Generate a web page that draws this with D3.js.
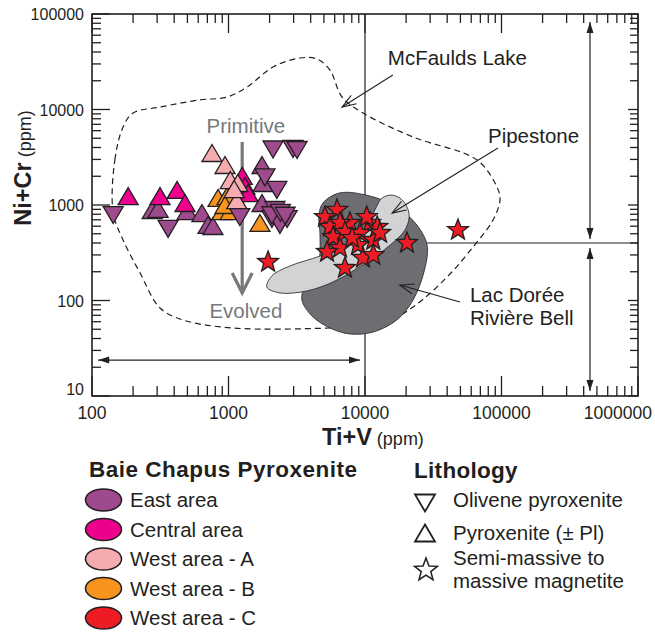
<!DOCTYPE html>
<html>
<head>
<meta charset="utf-8">
<script src="https://cdn.jsdelivr.net/npm/d3@7"></script>
<style>
  body { margin: 0; background: #fff; }
  svg { display: block; font-family: "Liberation Sans", Arial, sans-serif; }
</style>
</head>
<body>
<svg id="chart" width="655" height="633"></svg>
<script>
// Ti+V (ppm) on x, Ni+Cr (ppm) on y, both log scales
var xTickLabels = ["100", "1000", "10000", "100000", "1000000"];
var yTickLabels = ["10", "100", "1000", "10000", "100000"];

// Baie Chapus samples, [Ti+V, Ni+Cr]
var eastOlivine = [[143, 824], [361, 589], [2120, 4000], [2970, 4050], [3180, 3950], [1850, 2040],
  [2260, 1510], [1210, 785], [2190, 930], [2080, 748], [2470, 748], [2690, 748], [2380, 649],
  [2080, 820], [2400, 870], [2600, 810]];
var eastPyroxenite = [[276, 845], [305, 870], [497, 824], [639, 785], [708, 589], [769, 574],
  [1760, 2500], [1790, 1620], [1760, 1000]];
var centralPyroxenite = [[184, 1180], [315, 1180], [420, 1370], [480, 1000], [1260, 1920],
  [1320, 1510], [1390, 1270]];
var westAPyroxenite = [[757, 3340], [943, 2500], [1030, 1740], [1170, 1620], [1150, 1070], [1100, 1400]];
var westBPyroxenite = [[838, 1130], [975, 1180], [896, 824], [1030, 824], [1700, 618], [943, 953]];
var westCMagnetite = [[1950, 253], [6240, 887], [5090, 748], [7760, 649], [10900, 649], [5540, 589],
  [6560, 649], [9190, 509], [5840, 462], [11500, 430], [8880, 381], [6560, 355], [5270, 322],
  [9670, 279], [11500, 299], [7130, 219], [20300, 400], [48000, 547], [12300, 589], [12900, 509],
  [10300, 748], [7130, 521], [8040, 451]];

// outlines of the comparison fields, [Ti+V, Ni+Cr]
var mcfauldsField = [[143, 824], [147, 2960], [169, 6560], [200, 9190], [315, 10600], [618, 12600],
  [975, 13500], [1370, 17200], [2120, 27900], [3340, 34600], [4450, 33800], [5540, 25900],
  [6790, 13500], [9670, 9190], [22500, 5150], [66200, 2960], [92700, 1540], [97500, 1130],
  [86700, 697], [61800, 363], [39900, 176], [22500, 85.5], [12900, 55.3], [5540, 51.5],
  [1080, 51.5], [464, 62.5], [315, 83.4], [225, 194], [169, 430]];
var lacDoreeField = [[4920, 1050], [6560, 1340], [10900, 1240], [17100, 953], [24000, 618],
  [28500, 381], [27500, 219], [22500, 101], [17100, 62.5], [11500, 46.8], [7760, 44.6],
  [5540, 51.5], [4090, 68.8], [3450, 101], [3630, 145], [4530, 236], [4680, 486], [4600, 785]];
var pipestoneField = [[1910, 138], [2380, 120], [3760, 126], [6030, 160], [10300, 253], [15300, 381],
  [20000, 574], [21000, 824], [18700, 1130], [15800, 1270], [13300, 1180], [11800, 887],
  [10000, 574], [7130, 381], [4680, 292], [2820, 230], [2080, 181]];

var groupNames = ["East area", "Central area", "West area - A", "West area - B", "West area - C"];
var groupColors = ["#9e4a8c", "#ec008c", "#f5abb0", "#f7941d", "#ed1c24"];
var lithologyNames = ["Olivene pyroxenite", "Pyroxenite (\u00b1 Pl)", "Semi-massive to", "massive magnetite"];

var ink = "#231f20";
var grey = "#77787b";

var svg = d3.select("svg#chart");

var x = d3.scaleLog().domain([100, 1e6]).range([92, 638]);
var y = d3.scaleLog().domain([10, 1e5]).range([396, 14]);

function pt(d) { return [x(d[0]), y(d[1])]; }

// reference lines
svg.append("line")
  .attr("x1", x(10000)).attr("x2", x(10000))
  .attr("y1", y(1e5)).attr("y2", y(10))
  .attr("stroke", ink).attr("stroke-width", 1.2);
svg.append("line")
  .attr("x1", x(10000)).attr("x2", x(1e6))
  .attr("y1", y(400)).attr("y2", y(400))
  .attr("stroke", ink).attr("stroke-width", 1.2);

var fieldLine = d3.line().curve(d3.curveCatmullRomClosed.alpha(0.5));

svg.append("path")
  .attr("d", fieldLine(mcfauldsField.map(pt)))
  .attr("fill", "none")
  .attr("stroke", ink)
  .attr("stroke-width", 1.2)
  .attr("stroke-dasharray", "6,4");

svg.append("path")
  .attr("d", fieldLine(lacDoreeField.map(pt)))
  .attr("fill", "#6d6e71")
  .attr("stroke", ink)
  .attr("stroke-width", 0.8);

svg.append("path")
  .attr("d", fieldLine(pipestoneField.map(pt)))
  .attr("fill", "#d1d3d4")
  .attr("stroke", ink)
  .attr("stroke-width", 0.8);

// arrow helpers
function openArrow(from, to, colour, width, len, half) {
  var a = pt(from), b = pt(to);
  var ang = Math.atan2(b[1] - a[1], b[0] - a[0]);
  var g = svg.append("g").attr("stroke", colour).attr("fill", "none")
    .attr("stroke-width", width).attr("stroke-linejoin", "miter");
  g.append("line").attr("x1", a[0]).attr("y1", a[1]).attr("x2", b[0]).attr("y2", b[1]);
  var p1 = [b[0] - len * Math.cos(ang) + half * Math.sin(ang), b[1] - len * Math.sin(ang) - half * Math.cos(ang)];
  var p2 = [b[0] - len * Math.cos(ang) - half * Math.sin(ang), b[1] - len * Math.sin(ang) + half * Math.cos(ang)];
  g.append("path").attr("d", "M" + p1 + "L" + b + "L" + p2);
}

function headAt(g, tip, ang) {
  var len = 11, half = 3.5;
  var p1 = [tip[0] - len * Math.cos(ang) + half * Math.sin(ang), tip[1] - len * Math.sin(ang) - half * Math.cos(ang)];
  var p2 = [tip[0] - len * Math.cos(ang) - half * Math.sin(ang), tip[1] - len * Math.sin(ang) + half * Math.cos(ang)];
  g.append("path").attr("d", "M" + tip + "L" + p1 + "L" + p2 + "Z").attr("fill", ink).attr("stroke", "none");
}

function doubleArrow(from, to) {
  var a = pt(from), b = pt(to);
  var ang = Math.atan2(b[1] - a[1], b[0] - a[0]);
  var g = svg.append("g");
  g.append("line").attr("x1", a[0]).attr("y1", a[1]).attr("x2", b[0]).attr("y2", b[1])
    .attr("stroke", ink).attr("stroke-width", 1.2);
  headAt(g, b, ang);
  headAt(g, a, ang + Math.PI);
}

doubleArrow([445000, 82400], [445000, 441]);
doubleArrow([445000, 355], [445000, 11.3]);
doubleArrow([111, 23.8], [9190, 23.8]);

// field labels
openArrow([16000, 23000], [6790, 10600], ink, 1.1, 14, 5);
openArrow([94200, 3950], [15800, 824], ink, 1.1, 14, 5);
openArrow([49700, 96.4], [18000, 145], ink, 1.1, 14, 5);

var labels = svg.append("g").attr("fill", ink).attr("font-size", 20.5);
labels.append("text").attr("x", x(14700)).attr("y", y(29200)).text("McFaulds Lake");
labels.append("text").attr("x", x(79600)).attr("y", y(4460)).text("Pipestone");
labels.append("text").attr("x", x(58700)).attr("y", y(96.4)).text("Lac Dor\u00e9e");
labels.append("text").attr("x", x(58700)).attr("y", y(55.3)).text("Rivi\u00e8re Bell");

// primitive to evolved trend
openArrow([1260, 4570], [1260, 120], grey, 3.2, 20, 10);
svg.append("text").attr("x", x(1340)).attr("y", y(5680)).attr("text-anchor", "middle")
  .attr("fill", grey).attr("font-size", 20.5).text("Primitive");
svg.append("text").attr("x", x(1340)).attr("y", y(65.6)).attr("text-anchor", "middle")
  .attr("fill", grey).attr("font-size", 20.5).text("Evolved");

// marker shapes
function triPath(up) {
  var s = up ? -1 : 1;
  return "M0," + (10.5 * s) + "L10," + (-6.5 * s) + "L-10," + (-6.5 * s) + "Z";
}
function starPath(R) {
  var r = R * 0.42, p = [];
  for (var i = 0; i < 10; i++) {
    var a = -Math.PI / 2 + i * Math.PI / 5;
    var rr = i % 2 === 0 ? R : r;
    p.push([rr * Math.cos(a), rr * Math.sin(a)]);
  }
  return "M" + p.join("L") + "Z";
}

function drawTriangles(data, up, colour) {
  svg.append("g").selectAll("path")
    .data(data)
    .enter().append("path")
    .attr("d", triPath(up))
    .attr("transform", d => "translate(" + x(d[0]) + "," + y(d[1]) + ")")
    .attr("fill", colour)
    .attr("stroke", ink)
    .attr("stroke-width", 1.3)
    .attr("stroke-linejoin", "miter");
}

drawTriangles(eastPyroxenite, true, groupColors[0]);
drawTriangles(centralPyroxenite, true, groupColors[1]);
drawTriangles(westBPyroxenite, true, groupColors[3]);
drawTriangles(westAPyroxenite, true, groupColors[2]);
drawTriangles(eastOlivine, false, groupColors[0]);

svg.append("g").selectAll("path")
  .data(westCMagnetite)
  .enter().append("path")
  .attr("d", starPath(11))
  .attr("transform", d => "translate(" + x(d[0]) + "," + y(d[1]) + ")")
  .attr("fill", groupColors[4])
  .attr("stroke", ink)
  .attr("stroke-width", 1.3);

// frame and ticks
svg.append("rect")
  .attr("x", x(100)).attr("y", y(1e5))
  .attr("width", x(1e6) - x(100)).attr("height", y(10) - y(1e5))
  .attr("fill", "none").attr("stroke", ink).attr("stroke-width", 1.6);

function isMajor(v) { return Math.abs(Math.log10(v) - Math.round(Math.log10(v))) < 1e-6; }

var tickG = svg.append("g").attr("stroke", ink).attr("stroke-width", 1.3);
x.ticks().forEach(function(v) {
  var m = isMajor(v);
  tickG.append("line").attr("x1", x(v)).attr("x2", x(v))
    .attr("y1", y(10)).attr("y2", y(10) - (m ? 20 : 10));
  tickG.append("line").attr("x1", x(v)).attr("x2", x(v))
    .attr("y1", y(1e5)).attr("y2", y(1e5) + (m ? 19 : 9));
});
y.ticks().forEach(function(v) {
  var m = isMajor(v);
  tickG.append("line").attr("x1", x(100)).attr("x2", x(100) + (m ? 18 : 9))
    .attr("y1", y(v)).attr("y2", y(v));
  tickG.append("line").attr("x1", x(1e6)).attr("x2", x(1e6) - (m ? 10 : 8))
    .attr("y1", y(v)).attr("y2", y(v));
});

// tick labels
svg.append("g").selectAll("text")
  .data(xTickLabels)
  .enter().append("text")
  .attr("x", (d, i) => i === xTickLabels.length - 1 ? 652 : x(+d))
  .attr("y", 419)
  .attr("text-anchor", (d, i) => i === xTickLabels.length - 1 ? "end" : "middle")
  .attr("font-size", 17.5)
  .attr("fill", ink)
  .text(d => d);

svg.append("g").selectAll("text")
  .data(yTickLabels)
  .enter().append("text")
  .attr("x", 84)
  .attr("y", d => y(+d) + (d === "10" ? -1 : 6))
  .attr("text-anchor", "end")
  .attr("font-size", 16)
  .attr("fill", ink)
  .text(d => d);

// axis titles
var xt = svg.append("text").attr("x", 322).attr("y", 445).attr("fill", ink);
xt.append("tspan").attr("font-weight", "bold").attr("font-size", 23.5).text("Ti+V");
xt.append("tspan").attr("font-size", 18).text(" (ppm)");

var yt = svg.append("text").attr("transform", "translate(31,168) rotate(-90)")
  .attr("text-anchor", "middle").attr("fill", ink);
yt.append("tspan").attr("font-weight", "bold").attr("font-size", 23.5).text("Ni+Cr");
yt.append("tspan").attr("font-size", 18).text(" (ppm)");

// legends
var leg = svg.append("g").attr("fill", ink);
leg.append("text").attr("x", 89).attr("y", 477).attr("font-weight", "bold").attr("font-size", 22.5)
  .attr("letter-spacing", 0.5)
  .text("Baie Chapus Pyroxenite");
var rows = leg.selectAll("g.row")
  .data(groupNames)
  .enter().append("g")
  .attr("class", "row")
  .attr("transform", (d, i) => "translate(0," + (500 + i * 29.5) + ")");
rows.append("ellipse").attr("cx", 103.5).attr("cy", 0).attr("rx", 18).attr("ry", 11)
  .attr("fill", (d, i) => groupColors[i]).attr("stroke", ink).attr("stroke-width", 1.5);
rows.append("text").attr("x", 130).attr("y", 7).attr("font-size", 20.5).text(d => d);

var lith = svg.append("g").attr("fill", ink);
lith.append("text").attr("x", 414).attr("y", 478).attr("font-weight", "bold").attr("font-size", 22.5)
  .attr("letter-spacing", 0.3)
  .text("Lithology");
lith.append("path").attr("d", triPath(false)).attr("transform", "translate(425,501)")
  .attr("fill", "#fff").attr("stroke", ink).attr("stroke-width", 1.8);
lith.append("path").attr("d", triPath(true)).attr("transform", "translate(425,535)")
  .attr("fill", "#fff").attr("stroke", ink).attr("stroke-width", 1.8);
lith.append("path").attr("d", starPath(12)).attr("transform", "translate(426,570)")
  .attr("fill", "#fff").attr("stroke", ink).attr("stroke-width", 1.5);
lith.selectAll("text.item")
  .data(lithologyNames)
  .enter().append("text")
  .attr("class", "item")
  .attr("x", 453)
  .attr("y", (d, i) => [507, 540, 565, 588][i])
  .attr("font-size", 20.5)
  .text(d => d);
</script>
</body>
</html>
